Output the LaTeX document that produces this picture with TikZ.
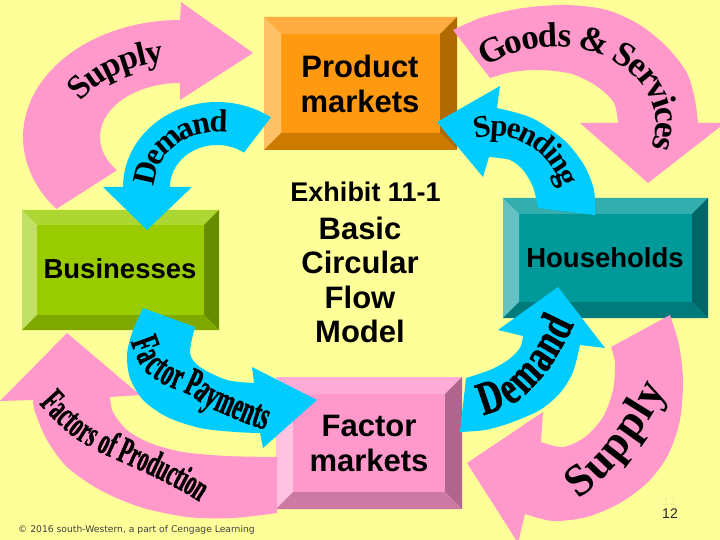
\documentclass[tikz,border=0pt]{standalone}
\usepackage{fontspec}
\setmainfont{Liberation Sans}
\newfontfamily\timesf{Liberation Serif}
\newfontfamily\condA[FakeStretch=0.54,FakeBold=1.2]{Liberation Serif}
\newfontfamily\condB[FakeStretch=0.72,FakeBold=1.2]{Liberation Serif}
\newfontfamily\smallf{DejaVu Sans}
\usetikzlibrary{decorations.text}
\definecolor{bg}{HTML}{FFFF99}
\definecolor{pinkA}{HTML}{FF99CC}
\definecolor{blueA}{HTML}{00CCFF}
% Product markets
\definecolor{pmface}{HTML}{FF9A10}
\definecolor{pmtop}{HTML}{FFAD40}
\definecolor{pmleft}{HTML}{FFC266}
\definecolor{pmright}{HTML}{B06A00}
\definecolor{pmbot}{HTML}{CC7A00}
% Businesses
\definecolor{bsface}{HTML}{99CC00}
\definecolor{bstop}{HTML}{ADD633}
\definecolor{bsleft}{HTML}{C2E066}
\definecolor{bsright}{HTML}{688C00}
\definecolor{bsbot}{HTML}{7FA800}
% Households
\definecolor{hhface}{HTML}{009999}
\definecolor{hhtop}{HTML}{33ADAD}
\definecolor{hhleft}{HTML}{66C2C2}
\definecolor{hhright}{HTML}{006666}
\definecolor{hhbot}{HTML}{007A7A}
% Factor markets
\definecolor{fmface}{HTML}{FF99CC}
\definecolor{fmtop}{HTML}{FFADD6}
\definecolor{fmleft}{HTML}{FFC2E0}
\definecolor{fmright}{HTML}{B0668C}
\definecolor{fmbot}{HTML}{CC7AA3}
\newcommand{\tbf}{\timesf\bfseries}
\newcommand{\cAbf}{\condA\bfseries}
\newcommand{\cBbf}{\condB\bfseries}
\newcommand{\bevbox}[6]{%
  \fill[#6face] (#1,#2) rectangle (#3,#4);
  \fill[#6top] (#1,#2) -- (#3,#2) -- ({#3-#5},{#2+#5}) -- ({#1+#5},{#2+#5}) -- cycle;
  \fill[#6left] (#1,#2) -- ({#1+#5},{#2+#5}) -- ({#1+#5},{#4-#5}) -- (#1,#4) -- cycle;
  \fill[#6right] (#3,#2) -- (#3,#4) -- ({#3-#5},{#4-#5}) -- ({#3-#5},{#2+#5}) -- cycle;
  \fill[#6bot] (#1,#4) -- (#3,#4) -- ({#3-#5},{#4-#5}) -- ({#1+#5},{#4-#5}) -- cycle;
}
\tikzset{
  boxlbl/.style={inner sep=0pt, align=center, text=black},
  bigbox/.style={boxlbl, font=\bfseries\fontsize{31}{35}\selectfont},
  midbox/.style={boxlbl, font=\bfseries\fontsize{27.5}{32}\selectfont},
  pinkarrow/.style={fill=pinkA},
  bluearrow/.style={fill=blueA},
}
\begin{document}
\begin{tikzpicture}[x=1pt,y=-1pt]
\useasboundingbox (0,0) rectangle (720,540);
\clip (0,0) rectangle (720,540);
\fill[bg] (0,0) rectangle (720,540);

% ---- boxes
\bevbox{264}{17}{457}{150}{17}{pm}
\bevbox{22}{210}{219}{330}{15}{bs}
\bevbox{503}{198}{708}{318}{16}{hh}
\bevbox{276}{377}{462}{509}{17}{fm}
\node[bigbox] (pm) at (360,84) {Product\\markets};
\node[midbox] (bs) at (120,269) {Businesses};
\node[midbox] (hh) at (605,258) {Households};
\node[bigbox] (fm) at (369,443) {Factor\\markets};

% ---- centre titles
\node[boxlbl, font=\bfseries\fontsize{27}{30}\selectfont] (exh) at (365.5,192) {Exhibit 11-1};
\node[boxlbl, font=\bfseries\fontsize{31}{34.3}\selectfont] (title) at (360,280) {Basic\\Circular\\Flow\\Model};

% ---- pink arrows
% Supply (top left)
\fill[pinkarrow] plot[domain=142:270,samples=50] ({180+157*cos(\x)},{137+117*sin(\x)})
  -- (181,2) -- (253,53) -- (180,100)
  -- plot[domain=270:142,samples=50] ({180+80*cos(\x)},{137+54*sin(\x)}) -- cycle;
\path[decorate,decoration={text along path,text align=center,raise=-11pt,
  text={|\tbf\fontsize{34}{34}\selectfont|Supply}}]
  plot[domain=188:278,samples=60] ({180+123*cos(\x)},{137+87*sin(\x)});

% Goods & Services (top right)
\fill[pinkarrow] plot[smooth] coordinates {(453,30) (483,17) (523,8) (567,5) (607,10) (640,25) (667,47) (687,73) (695,100) (698,123)}
  -- (725,123) -- (648,183) -- (580,123)
  -- plot[smooth] coordinates {(618,123) (614,103) (598,87) (572,74) (540,70) (512,72) (490,78)} -- cycle;
\path[decorate,decoration={text along path,text align=center,raise=-11pt,
  text={|\tbf\fontsize{35}{35}\selectfont|Goods {\&} Services}}]
  plot[domain=218:390,samples=80] ({555+112*cos(\x)},{123+87*sin(\x)});

% Supply (bottom right)
\fill[pinkarrow] plot[smooth] coordinates {(670,315) (679,345) (683,380) (680,420) (668,455) (648,482) (620,503) (587,517) (553,521) (525,514)}
  -- (518,543) -- (467,463) -- (543,412)
  -- plot[smooth] coordinates {(541,442) (563,447) (585,437) (603,417) (613,390) (615,363) (611,347)} -- cycle;
\path[decorate,decoration={text along path,text align=center,raise=-15pt,
  text={|\tbf\fontsize{45}{45}\selectfont|Supply}}]
  plot[smooth] coordinates {(500,508) (528,504) (555,495) (578,481) (598,463) (616,441) (632,419) (646,396) (657,370) (663,342) (665,312)};

% Factors of Production (bottom left)
\fill[pinkarrow] plot[smooth] coordinates {(277,513) (233,518) (187,517) (140,507) (100,490) (67,467) (47,440) (35,412) (33,400)}
  -- (0,401) -- (67,333) -- (140,395)
  -- plot[smooth] coordinates {(110,397) (113,412) (127,430) (150,443) (183,452) (227,456) (277,457)} -- cycle;
\path[decorate,decoration={text along path,text align=center,raise=-11pt,
  text={|\cAbf\fontsize{37}{37}\selectfont|Factors of Production}}]
  plot[smooth] coordinates {(25,355) (32,372) (40,385) (48,397) (62,412) (80,428) (100,440) (117,448) (133,455) (155,465) (175,475) (192,484) (205,492) (220,498) (235,503) (250,507)};

% ---- blue arrows
% Demand (top left)
\fill[bluearrow] plot[domain=-55:-180,samples=50] ({217+94*cos(\x)},{187+85*sin(\x)})
  -- (103,187) -- (147,230) -- (192,187)
  -- plot[domain=-180:-55,samples=50] ({217+47*cos(\x)},{187+42*sin(\x)}) -- cycle;
\path[decorate,decoration={text along path,text align=center,raise=-10pt,
  text={|\tbf\fontsize{32}{32}\selectfont|Demand}}]
  plot[domain=176:284,samples=60] ({217+72*cos(\x)},{187+65*sin(\x)});

% Spending (top right)
\fill[bluearrow] plot[smooth] coordinates {(595,215) (594,190) (584,165) (564,140) (532,118) (497,108)}
  -- (500,86) -- (437,122) -- (483,177)
  -- plot[smooth] coordinates {(489,157) (510,160) (523,170) (533,187) (538,208)} -- cycle;
\path[decorate,decoration={text along path,text align=center,raise=-10pt,
  text={|\tbf\fontsize{31}{31}\selectfont|Spending}}]
  plot[domain=-140:14,samples=80] ({495+80*cos(\x)},{212+86*sin(\x)});

% Demand (bottom right)
\fill[bluearrow] plot[smooth] coordinates {(460,432) (485,430) (510,423) (540,410) (560,393) (573,372) (580,345)}
  -- (605,348) -- (558,287) -- (498,330)
  -- plot[smooth] coordinates {(523,336) (520,348) (508,360) (490,370) (466,378)} -- cycle;
\path[decorate,decoration={text along path,text align=center,raise=-14pt,
  text={|\cBbf\fontsize{47}{47}\selectfont|Demand}}]
  plot[smooth] coordinates {(440,407) (465,404) (488,399) (507,391) (522,378) (537,361) (547,345) (558,325) (566,303) (570,280)};

% Factor Payments (bottom left)
\fill[bluearrow] plot[smooth] coordinates {(143,308) (132,333) (127,355) (130,378) (143,400) (167,417) (200,428) (235,432) (260,433)}
  -- (263,448) -- (317,400) -- (252,367)
  -- plot[smooth] coordinates {(254,383) (227,380) (200,367) (190,353) (195,327)} -- cycle;
\path[decorate,decoration={text along path,text align=center,raise=-12pt,
  text={|\cAbf\fontsize{40}{40}\selectfont|Factor Payments}}]
  plot[smooth] coordinates {(137,300) (139,318) (142,337) (147,351) (153,362) (162,369) (170,374) (180,378) (197,385) (212,396) (224,401) (238,407) (250,412) (262,416) (273,420) (290,426) (305,430)};

% ---- footer
\node[anchor=west, inner sep=0pt, text=black!75, font=\smallf\fontsize{9.2}{10}\selectfont] (copy) at (18,530) {© 2016 south-Western, a part of Cengage Learning};
\node[inner sep=0pt, text=black!6!bg, font=\fontsize{12}{12}\selectfont] (ghost) at (669,501) {12};
\node[inner sep=0pt, text=black!85, font=\fontsize{14}{14}\selectfont] (pg) at (670,514) {12};
\end{tikzpicture}
\end{document}
